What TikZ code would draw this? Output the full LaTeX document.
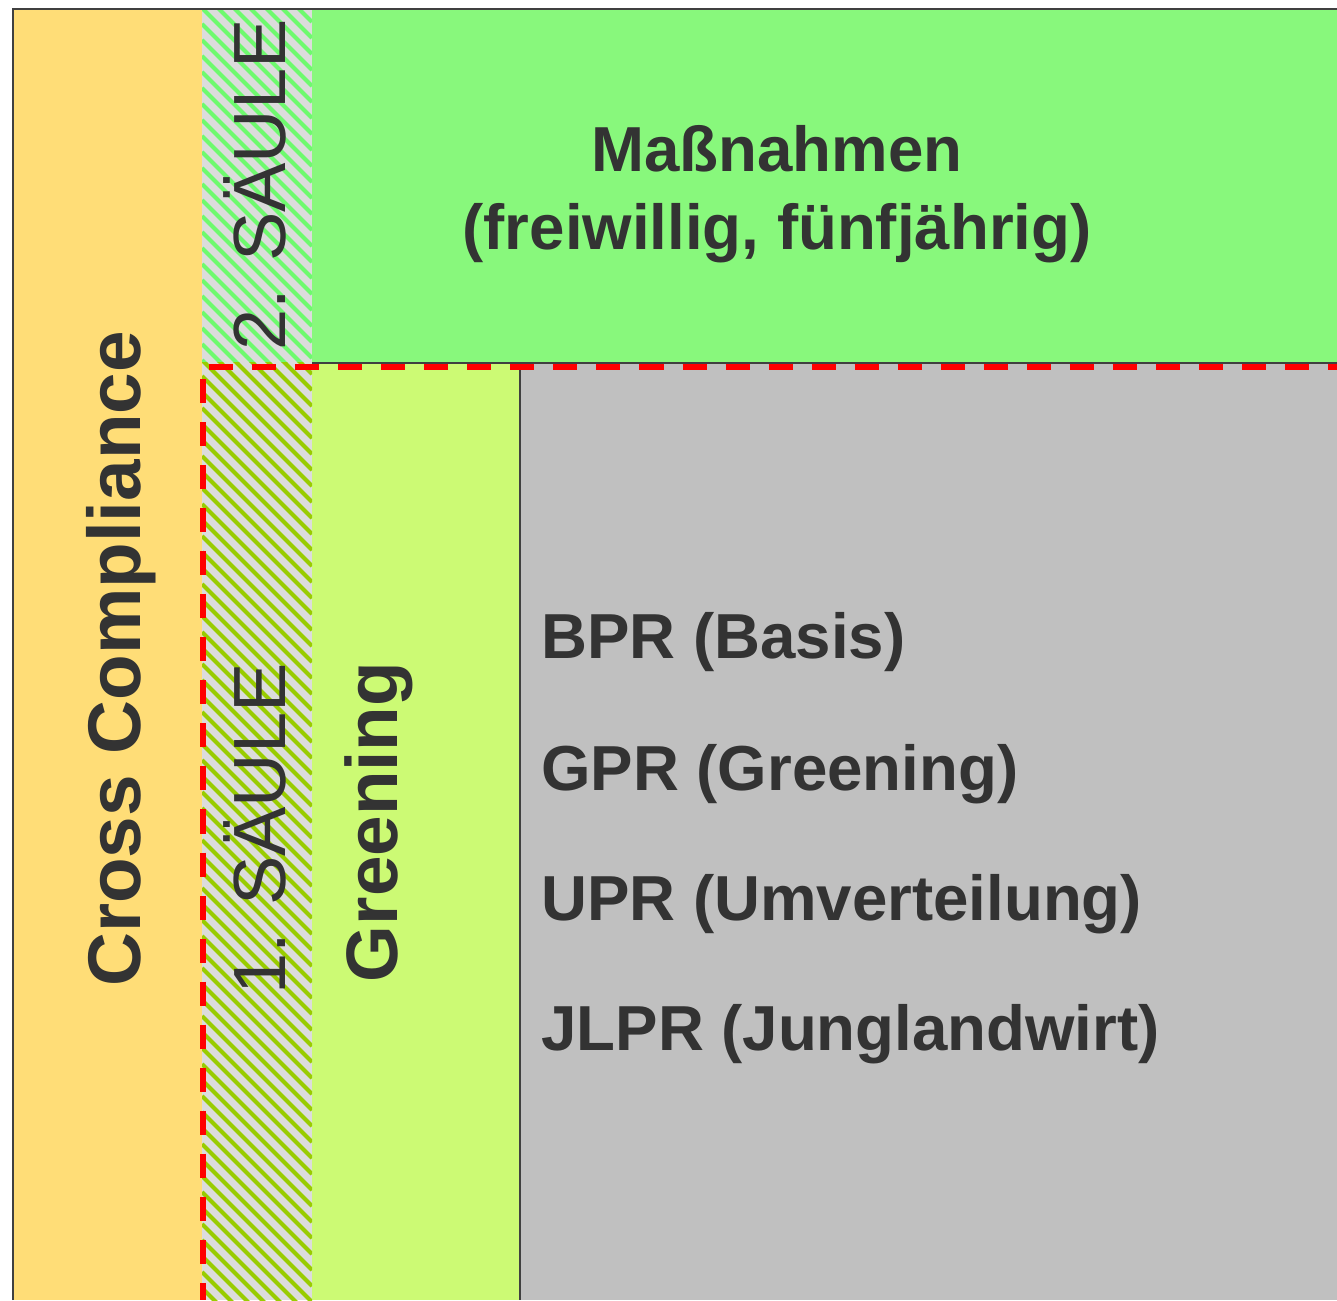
\documentclass[tikz,border=0pt]{standalone}
\usepackage{fontspec}
\setmainfont{Liberation Sans}
\usetikzlibrary{positioning}
\definecolor{ccyellow}{RGB}{255,221,119}
\definecolor{msgreen}{RGB}{136,248,124}
\definecolor{grlime}{RGB}{204,250,116}
\definecolor{prgray}{RGB}{192,192,192}
\definecolor{hatchbg}{RGB}{220,220,220}
\definecolor{hatchtop}{RGB}{110,250,110}
\definecolor{hatchbot}{RGB}{153,204,0}
\definecolor{txtdark}{RGB}{51,51,51}
\definecolor{edgedark}{RGB}{64,64,64}
\tikzset{
  frameline/.style={draw=edgedark, line width=1.2pt},
  cutline/.style={draw=red, line width=3.4pt, dash pattern=on 13.7pt off 10.8pt},
  stripe/.style={line width=2.3pt},
  pillarlbl/.style={font=\fontsize{42.1pt}{50pt}\selectfont, text=txtdark, inner sep=0pt,
                    rotate=90, anchor=base},
  sidelbl/.style={font=\fontsize{42.5pt}{50pt}\selectfont\bfseries, text=txtdark, inner sep=0pt,
                  rotate=90, anchor=base},
  boxlbl/.style={font=\fontsize{36.2pt}{44.4pt}\selectfont\bfseries, text=txtdark, inner sep=0pt},
}

\begin{document}
\begin{tikzpicture}[x=0.02cm, y=-0.02cm]

\useasboundingbox (0,0) rectangle (1337,1300);

% panels
\fill[ccyellow] (13,9) rectangle (202,1300);
\fill[msgreen] (312,9) rectangle (1337,363);
\fill[grlime] (312,363) rectangle (520,1300);
\fill[prgray] (520,363) rectangle (1337,1300);

% hatched pillar strip
\begin{scope}
  \clip (202,9) rectangle (312,363);
  \fill[hatchbg] (202,9) rectangle (312,363);
  \foreach \t in {-120,-104,...,375}{
    \draw[stripe, hatchtop] (202,\t) -- (312,\t+110);
  }
\end{scope}
\begin{scope}
  \clip (202,363) rectangle (312,1300);
  \fill[hatchbg] (202,363) rectangle (312,1300);
  \foreach \t in {248,264,...,1305}{
    \draw[stripe, hatchbot] (202,\t) -- (312,\t+110);
  }
\end{scope}

\draw[frameline] (13,1300) -- (13,9) -- (1337,9);
\draw[frameline] (312,363) -- (1337,363);
\draw[frameline] (520,363) -- (520,1300);

\draw[cutline] (209,367) -- (1337,367);
\draw[cutline] (203,379) -- (203,1300);

% labels
\node[sidelbl] (crossc) at (140,659) {Cross Compliance};
\node[pillarlbl] (saeule2) at (285,185) {2. SÄULE};
\node[pillarlbl] (saeule1) at (285,829) {1. SÄULE};
\node[sidelbl, font=\fontsize{41.5pt}{50pt}\selectfont\bfseries] (greening) at (397,822) {Greening};

\node[boxlbl, align=center, anchor=base] (massn) at (777,250)
  {Maßnahmen\\(freiwillig, fünfjährig)};

\foreach \i/\y/\txt in {1/658/BPR (Basis), 2/790/GPR (Greening),
                        3/920/UPR (Umverteilung), 4/1050/JLPR (Junglandwirt)}{
  \node[boxlbl, anchor=base west] (prem\i) at (541,\y) {\txt};
}

\end{tikzpicture}
\end{document}
